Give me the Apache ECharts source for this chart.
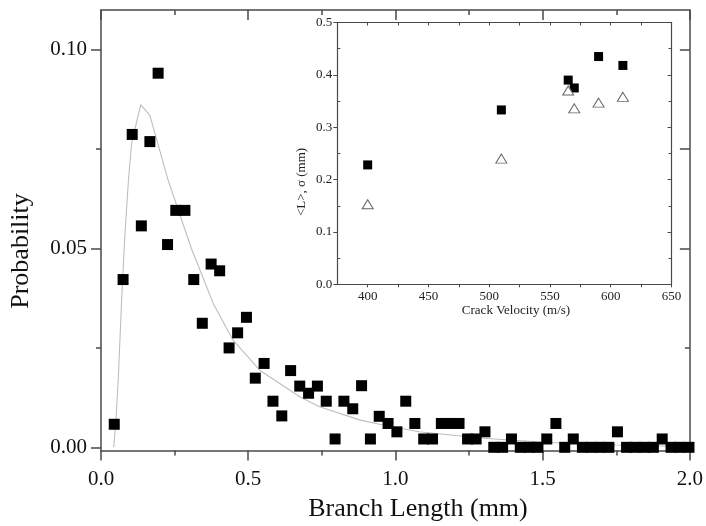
<!DOCTYPE html>
<html>
<head>
<meta charset="utf-8">
<script src="https://cdn.jsdelivr.net/npm/echarts@6/dist/echarts.min.js"></script>
<style>
  html, body { margin: 0; padding: 0; background: #fff; }
  #chart { width: 706px; height: 526px; }
</style>
</head>
<body>
<div id="chart"></div>
<script>
// Branch length histogram (probability per bin)
const branchLength = [0.045, 0.075, 0.106, 0.137, 0.166, 0.194, 0.226, 0.254, 0.285, 0.315,
  0.344, 0.374, 0.403, 0.435, 0.464, 0.494, 0.524, 0.554, 0.584, 0.614,
  0.644, 0.675, 0.705, 0.735, 0.765, 0.795, 0.825, 0.855, 0.885, 0.915,
  0.945, 0.975, 1.005, 1.035, 1.066, 1.096, 1.126, 1.156, 1.186, 1.216,
  1.245, 1.274, 1.304, 1.334, 1.364, 1.394, 1.424, 1.454, 1.484, 1.514,
  1.545, 1.575, 1.604, 1.635, 1.665, 1.695, 1.725, 1.754, 1.785, 1.815,
  1.845, 1.876, 1.906, 1.936, 1.966, 1.997];
const probability = [0.0058, 0.0422, 0.0787, 0.0557, 0.0769, 0.0941, 0.0510, 0.0596, 0.0596, 0.0422,
  0.0312, 0.0461, 0.0444, 0.0250, 0.0288, 0.0327, 0.0174, 0.0211, 0.0116, 0.0079,
  0.0193, 0.0154, 0.0136, 0.0154, 0.0116, 0.0021, 0.0116, 0.0097, 0.0155, 0.0021,
  0.0078, 0.0060, 0.0039, 0.0116, 0.0060, 0.0021, 0.0021, 0.0060, 0.0060, 0.0060,
  0.0021, 0.0021, 0.0039, 0, 0, 0.0021, 0, 0, 0, 0.0021,
  0.0060, 0, 0.0021, 0, 0, 0, 0, 0.0039, 0, 0,
  0, 0, 0.0021, 0, 0, 0];

// Fitted distribution curve
const fitLength = [0.043, 0.050, 0.059, 0.070, 0.080, 0.093, 0.104, 0.135, 0.166, 0.228,
  0.307, 0.381, 0.448, 0.539, 0.675, 0.742, 0.878, 0.946, 1.080, 1.296,
  1.522, 1.748, 2.0];
const fitProbability = [0, 0.006, 0.0177, 0.037, 0.052, 0.067, 0.0765, 0.0862, 0.0835, 0.0672,
  0.050, 0.0362, 0.027, 0.0194, 0.0127, 0.0102, 0.0069, 0.0058, 0.0039, 0.0023,
  0.0012, 0.0006, 0.0002];

// Inset: mean length and standard deviation vs crack velocity
const crackVelocity = [400, 510, 565, 570, 590, 610];
const meanLength = [0.228, 0.333, 0.390, 0.375, 0.435, 0.418];
const sigmaLength = [0.153, 0.240, 0.370, 0.336, 0.347, 0.358];

// Tick positions
const mainYMajor = [0, 0.05, 0.10];
const mainYMinor = [0.025, 0.075];
const insetXMajor = [400, 450, 500, 550, 600, 650];
const insetXAll = [400, 425, 450, 475, 500, 525, 550, 575, 600, 625, 650];
const insetYMinor = [0.05, 0.15, 0.25, 0.35, 0.45];

const zip = (a, b) => a.map((v, i) => [v, b[i]]);

const FONT = 'Liberation Serif';
const AXIS_COLOR = '#4a4a4a';
const lineStyle = { color: AXIS_COLOR, width: 1.5 };
const insetLine = { color: AXIS_COLOR, width: 1.2 };
const insetTick = { color: AXIS_COLOR, width: 1 };
const hidden = { show: false };

const chart = echarts.init(document.getElementById('chart'), null, { renderer: 'canvas' });

chart.setOption({
  animation: false,
  backgroundColor: '#fff',
  grid: [
    { left: 101, top: 10, right: 15, bottom: 75.5, show: false },
    { left: 337.3, top: 22.5, right: 34.5, bottom: 241.7, show: true,
      backgroundColor: '#fff', borderWidth: 0 }
  ],
  xAxis: [
    { type: 'value', gridIndex: 0, position: 'bottom', min: 0, max: 2, interval: 0.5,
      axisLine: { show: true, onZero: false, lineStyle }, splitLine: hidden,
      axisTick: { show: true, length: 10, lineStyle },
      minorTick: { show: true, splitNumber: 2, length: 5, lineStyle },
      axisLabel: { margin: 18, fontFamily: FONT, fontSize: 21, color: '#111',
        formatter: v => v.toFixed(1) } },
    { type: 'value', gridIndex: 0, position: 'top', min: 0, max: 2, interval: 0.5,
      axisLine: { show: true, onZero: false, lineStyle }, splitLine: hidden,
      axisTick: { show: true, inside: true, length: 10, lineStyle },
      minorTick: { show: true, splitNumber: 2, length: 5, lineStyle },
      axisLabel: hidden },
    { type: 'value', gridIndex: 1, position: 'bottom', min: 375, max: 650,
      axisLine: { show: true, onZero: false, lineStyle: insetLine },
      splitLine: hidden,
      axisTick: { show: true, length: 3, customValues: insetXAll, lineStyle: insetTick },
      axisLabel: { margin: 6, fontFamily: FONT, fontSize: 13, color: '#222',
        customValues: insetXMajor } },
    { type: 'value', gridIndex: 1, position: 'top', min: 375, max: 650,
      axisLine: { show: true, onZero: false, lineStyle: insetLine },
      splitLine: hidden,
      axisTick: { show: true, inside: true, length: 3, customValues: insetXAll, lineStyle: insetTick },
      axisLabel: hidden }
  ],
  yAxis: [
    { type: 'value', gridIndex: 0, position: 'left', min: -0.0008, max: 0.11,
      axisLine: { show: true, onZero: false, lineStyle }, splitLine: hidden,
      axisTick: { show: true, length: 10, customValues: mainYMajor, lineStyle },
      axisLabel: { margin: 14, fontFamily: FONT, fontSize: 21, color: '#111',
        customValues: mainYMajor, formatter: v => v.toFixed(2) } },
    { type: 'value', gridIndex: 0, position: 'left', min: -0.0008, max: 0.11,
      axisLine: { show: false, onZero: false }, splitLine: hidden,
      axisTick: { show: true, length: 5, customValues: mainYMinor, lineStyle },
      axisLabel: hidden },
    { type: 'value', gridIndex: 0, position: 'right', min: -0.0008, max: 0.11,
      axisLine: { show: true, onZero: false, lineStyle }, splitLine: hidden,
      axisTick: { show: true, inside: true, length: 10,
        customValues: [0, 0.05, 0.075, 0.10], lineStyle },
      axisLabel: hidden },
    { type: 'value', gridIndex: 0, position: 'right', min: -0.0008, max: 0.11,
      axisLine: { show: false, onZero: false }, splitLine: hidden,
      axisTick: { show: true, inside: true, length: 5, customValues: [0.025], lineStyle },
      axisLabel: hidden },
    { type: 'value', gridIndex: 1, position: 'left', min: 0, max: 0.5, interval: 0.1,
      axisLine: { show: true, onZero: false, lineStyle: insetLine },
      splitLine: hidden,
      axisTick: { show: true, length: 4, lineStyle: insetTick },
      axisLabel: { margin: 5, fontFamily: FONT, fontSize: 13, color: '#222',
        formatter: v => v.toFixed(1) } },
    { type: 'value', gridIndex: 1, position: 'left', min: 0, max: 0.5,
      axisLine: { show: false, onZero: false }, splitLine: hidden,
      axisTick: { show: true, inside: true, length: 3, customValues: insetYMinor, lineStyle: insetTick },
      axisLabel: hidden },
    { type: 'value', gridIndex: 1, position: 'right', min: 0, max: 0.5, interval: 0.1,
      axisLine: { show: true, onZero: false, lineStyle: insetLine },
      splitLine: hidden,
      axisTick: { show: true, inside: true, length: 4, lineStyle: insetTick },
      minorTick: { show: true, splitNumber: 2, length: 3, lineStyle: insetTick },
      axisLabel: hidden }
  ],
  series: [
    { type: 'line', xAxisIndex: 0, yAxisIndex: 0, data: zip(fitLength, fitProbability),
      showSymbol: false, smooth: false, z: 2,
      lineStyle: { color: '#bdbdbd', width: 1.1 } },
    { type: 'scatter', xAxisIndex: 0, yAxisIndex: 0, data: zip(branchLength, probability),
      symbol: 'rect', symbolSize: 11, z: 3, itemStyle: { color: '#000', opacity: 1 } },
    { type: 'scatter', xAxisIndex: 2, yAxisIndex: 4, data: zip(crackVelocity, meanLength),
      symbol: 'rect', symbolSize: 9, z: 3, itemStyle: { color: '#000', opacity: 1 } },
    { type: 'scatter', xAxisIndex: 2, yAxisIndex: 4, data: zip(crackVelocity, sigmaLength),
      symbol: 'triangle', symbolSize: [11, 9], z: 3,
      itemStyle: { color: '#fff', borderColor: '#666', borderWidth: 1, opacity: 1 } }
  ],
  graphic: [
    { type: 'text', x: 21, y: 251, rotation: Math.PI / 2,
      style: { text: 'Probability', font: '26px "Liberation Serif"', fill: '#111',
        align: 'center', verticalAlign: 'middle' } },
    { type: 'text', x: 418, y: 509,
      style: { text: 'Branch Length (mm)', font: '26px "Liberation Serif"', fill: '#111',
        align: 'center', verticalAlign: 'middle' } },
    { type: 'text', x: 516, y: 311,
      style: { text: 'Crack Velocity (m/s)', font: '13px "Liberation Serif"', fill: '#222',
        align: 'center', verticalAlign: 'middle' } },
    { type: 'text', x: 302, y: 182, rotation: Math.PI / 2,
      style: { text: '<L>, σ (mm)', font: '13px "Liberation Serif"', fill: '#222',
        align: 'center', verticalAlign: 'middle' } }
  ]
});
</script>
</body>
</html>
